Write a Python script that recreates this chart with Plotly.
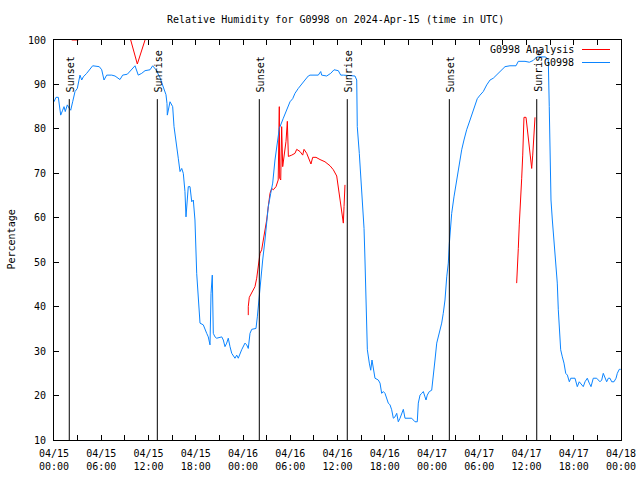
import pandas as pd
import plotly.graph_objects as go

BASE = pd.Timestamp("2024-04-15 00:00")

# G0998 observations (hours since 04/15 00:00 UTC, relative humidity %)
obs_hours = [0.00, 0.25, 0.55, 0.85, 1.10, 1.27, 1.43, 1.69, 1.94, 2.12, 2.37, 2.67, 2.96, 3.30, 3.52,
             3.72, 4.15, 4.57, 4.91, 5.75, 6.06, 6.35, 6.69, 7.33, 7.75, 8.38, 8.72, 9.31, 9.87, 10.29,
             10.70, 11.14, 11.56, 12.19, 12.53, 12.95, 13.46, 13.88, 14.22, 14.35, 14.39, 14.73, 15.07,
             15.24, 15.49, 15.78, 16.00, 16.22, 16.42, 16.63, 16.76, 16.93, 17.05, 17.27, 17.49, 17.69,
             17.90, 18.12, 18.32, 18.54, 18.96, 19.17, 19.39, 19.59, 19.81, 19.94, 20.10, 20.23, 20.44,
             20.66, 21.30, 21.50, 21.71, 21.93, 22.13, 22.35, 22.57, 22.98, 23.20, 23.40, 23.62, 23.83,
             24.25, 24.47, 24.67, 24.89, 25.11, 25.65, 25.82, 26.07, 26.25, 26.50, 26.79, 27.01, 27.21,
             27.52, 27.77, 28.06, 28.28, 28.61, 29.12, 29.55, 29.97, 30.31, 30.60, 31.02, 31.45, 31.87,
             32.29, 32.51, 33.56, 33.87, 33.99, 34.63, 35.14, 35.56, 36.10, 36.41, 36.74, 37.59, 38.22,
             38.44, 38.51, 38.77, 38.95, 39.07, 39.20, 39.37, 39.49, 39.62, 39.79, 40.04, 40.22, 40.38,
             40.55, 40.76, 41.18, 41.40, 41.61, 41.82, 42.03, 42.25, 42.45, 42.67, 42.88, 43.09, 43.30,
             43.52, 43.72, 43.94, 44.15, 44.36, 44.57, 45.42, 45.84, 46.13, 46.26, 46.48, 46.69, 46.90,
             47.11, 47.24, 47.40, 47.66, 47.96, 48.17, 48.38, 48.60, 48.80, 49.02, 49.23, 49.43, 49.65,
             49.87, 50.07, 50.20, 50.50, 50.79, 51.14, 51.47, 51.77, 52.06, 52.40, 52.83, 53.17, 53.46,
             53.75, 54.10, 54.51, 54.95, 55.37, 55.78, 56.22, 56.63, 57.27, 57.90, 58.67, 58.96, 59.81,
             60.36, 60.86, 61.30, 62.35, 62.57, 62.77, 62.89, 62.98, 63.11, 63.28, 63.49, 63.75, 63.91,
             64.04, 64.17, 64.34, 64.55, 64.76, 64.98, 65.19, 65.44, 65.62, 66.16, 66.45, 66.70, 67.01,
             67.21, 67.43, 67.72, 67.97, 68.19, 68.48, 68.91, 69.33, 69.55, 69.75, 69.97, 70.18, 70.39,
             70.60, 70.82, 71.11, 71.37, 71.53, 71.78, 71.96]
obs_rh = [86.1, 87.1, 87.1, 83.1, 84.2, 85.0, 83.9, 85.4, 84.6, 84.2, 86.1, 88.4, 89.1, 92.1, 91.0,
          91.7, 92.5, 93.4, 94.2, 94.0, 93.3, 91.0, 92.1, 92.1, 91.9, 91.1, 92.1, 92.3, 93.3, 94.2,
          92.1, 92.5, 93.1, 93.3, 94.2, 93.3, 91.5, 89.6, 87.7, 85.7, 83.1, 86.1, 85.0,
          80.5, 76.7, 73.4, 70.4, 71.1, 70.0, 65.9, 60.2, 64.0, 67.0, 67.0, 63.6, 64.0,
          59.5, 47.5, 42.6, 36.3, 35.9, 34.7, 34.0, 33.2, 31.4, 43.0, 47.1, 34.0, 33.2,
          32.9, 33.2, 32.5, 31.0, 31.8, 32.9, 31.0, 29.5, 28.4, 29.1, 28.4, 29.5, 30.3,
          31.8, 31.4, 30.6, 34.0, 34.9, 35.1, 37.7, 43.0, 46.0, 50.5, 55.0, 59.5, 62.5,
          65.5, 67.8, 73.0, 75.6, 80.1, 82.4, 84.2, 86.1, 86.8, 88.0, 89.1, 90.2, 91.0,
          91.9, 92.1, 92.1, 92.9, 92.1, 91.9, 92.5, 93.3, 93.1, 92.1, 92.1, 91.9, 91.9,
          91.0, 80.5, 74.5, 70.0, 66.3, 61.8, 57.6, 50.5, 37.7, 30.3, 27.3, 25.7, 28.0,
          26.1, 23.9, 23.5, 22.8, 20.5, 20.9, 20.5, 19.0, 18.3, 17.9, 16.8, 14.9, 15.2,
          16.0, 14.1, 14.9, 16.0, 16.9, 14.9, 14.9, 14.1, 14.1, 18.3, 20.1, 20.5, 20.9,
          19.7, 19.0, 20.1, 20.9, 21.2, 24.2, 28.0, 31.8, 33.2, 34.4, 36.3, 38.5, 41.5,
          46.7, 49.8, 54.2, 61.0, 64.7, 68.5, 72.2, 75.3, 77.5, 79.8, 82.0, 83.9, 85.4,
          86.8, 87.6, 88.4, 89.9, 91.0, 91.4, 92.1, 92.9, 94.0, 94.2, 94.2, 95.2, 95.2,
          95.0, 95.4, 96.2, 96.2, 96.0, 95.5, 85.0, 70.8, 64.0, 59.5, 55.0, 50.5, 45.3,
          39.3, 34.0, 30.3, 28.7, 27.3, 25.0, 24.6, 23.1, 23.9, 23.9, 22.0, 23.1, 22.4,
          22.0, 23.1, 23.9, 22.8, 22.0, 23.9, 23.9, 23.1, 23.5, 25.0, 23.9, 23.1, 23.9,
          23.9, 23.1, 23.1, 23.9, 25.0, 25.9, 25.9]

# G0998 Analysis (None = gap)
ana_hours = [2.25, 3.10, None,
             9.74, 10.58, 11.56, None,
             24.67, 24.67, 24.80, 25.11, 25.52, 25.74, 25.94, 26.16, 26.37, 26.58, 26.79, 27.01, 27.21,
             27.43, 27.64, 27.85, 28.19, 28.47, 28.61, 28.66, 28.79, 28.91, 29.04, 29.46, 29.63, 29.76,
             30.19, 30.60, 30.82, 31.24, 31.58, 31.75, 32.09, 32.42, 32.63, 32.85, 33.27, 33.78, 34.41,
             35.05, 35.47, 35.90, 36.10, 36.32, 36.53, 36.74, 36.83, 36.95, None,
             58.75, 58.83, 58.96, 59.08, 59.26, 59.39, 59.52, 59.68, 59.94, 60.10, 60.36, 60.53, 60.66,
             60.79, 60.95, 61.08]
ana_rh = [100.0, 100.0, None,
          100.0, 94.6, 100.0, None,
          38.1, 40.0, 42.1, 43.0, 44.5, 46.4, 48.6, 52.0, 52.8, 55.0, 56.9, 59.5, 62.5,
          65.5, 66.6, 66.3, 67.0, 68.5, 85.0, 68.9, 68.5, 80.5, 71.5, 77.2, 81.7, 73.8,
          74.1, 74.5, 75.4, 74.9, 74.1, 75.4, 74.5, 73.1, 72.1, 73.6, 73.6, 73.1, 72.6,
          71.7, 70.8, 69.4, 67.0, 64.8, 61.4, 58.8, 62.5, 67.4, None,
          45.3, 47.5, 53.1, 58.4, 63.6, 68.9, 74.1, 82.6, 82.6, 79.9, 76.0, 73.8, 71.1,
          74.1, 79.9, 82.6]

sun_hours = [1.94, 13.12, 26.07, 37.24, 50.20, 61.30]
sun_labels = ["Sunset", "Sunrise", "Sunset", "Sunrise", "Sunset", "Sunrise"]
SUN_TOP = 86.7

tick_hours = list(range(0, 73, 3))
tick_text = [(BASE + pd.Timedelta(hours=h)).strftime("%m/%d<br>%H:%M") if h % 6 == 0 else ""
             for h in tick_hours]

def to_time(hs):
    return [None if h is None else BASE + pd.Timedelta(hours=h) for h in hs]

FONT = "DejaVu Sans Mono"
BLUE = "#0a84ff"
RED = "#ff0000"

fig = go.Figure()
fig.add_trace(go.Scatter(x=to_time(ana_hours), y=ana_rh, mode="lines", name="G0998 Analysis",
                         line=dict(color=RED, width=1), connectgaps=False))
fig.add_trace(go.Scatter(x=to_time(obs_hours), y=obs_rh, mode="lines", name="G0998",
                         line=dict(color=BLUE, width=1)))

for h, lab in zip(sun_hours, sun_labels):
    t = BASE + pd.Timedelta(hours=h)
    fig.add_shape(type="line", xref="x", yref="y", x0=t, x1=t, y0=10, y1=SUN_TOP,
                  line=dict(color="black", width=1), layer="above")
    fig.add_annotation(x=t, y=SUN_TOP, xref="x", yref="y", text=lab, textangle=-90,
                       showarrow=False, xanchor="center", yanchor="bottom", yshift=5, xshift=1,
                       font=dict(family=FONT, size=10, color="black"))

# legend (text left of sample line, like gnuplot)
W, H = 567.0, 400.0
def px(xp):
    return (xp - 54) / W
def py(yp):
    return (440 - yp) / H

for name, col, ypix in [("G0998 Analysis", RED, 49.5), ("G0998", BLUE, 62.5)]:
    fig.add_annotation(x=px(576), y=py(ypix), xref="paper", yref="paper", text=name,
                       showarrow=False, xanchor="right", yanchor="middle",
                       font=dict(family=FONT, size=10, color="black"))
    fig.add_shape(type="line", xref="paper", yref="paper", x0=px(582), x1=px(610),
                  y0=py(ypix), y1=py(ypix), line=dict(color=col, width=1))

fig.add_annotation(x=px(335.5), y=py(19), xref="paper", yref="paper",
                   text="Relative Humidity for G0998 on 2024-Apr-15 (time in UTC)",
                   showarrow=False, xanchor="center", yanchor="middle",
                   font=dict(family=FONT, size=10, color="black"))
fig.add_annotation(x=px(10.5), y=py(240), xref="paper", yref="paper", text="Percentage",
                   textangle=-90, showarrow=False, xanchor="center", yanchor="middle",
                   font=dict(family=FONT, size=10, color="black"))

fig.update_layout(
    width=640, height=480,
    margin=dict(l=54, r=19, t=40, b=40),
    paper_bgcolor="white", plot_bgcolor="white",
    showlegend=False,
    font=dict(family=FONT, size=10, color="black"),
    xaxis=dict(range=[BASE, BASE + pd.Timedelta(hours=72)], tickmode="array",
               tickvals=to_time(tick_hours), ticktext=tick_text, automargin=False,
               ticklabelstandoff=4,
               ticks="inside", ticklen=5, tickcolor="black", showgrid=False, zeroline=False,
               showline=True, linecolor="black", linewidth=1, mirror="ticks"),
    yaxis=dict(range=[10, 100], tickmode="array", tickvals=list(range(10, 101, 10)),
               automargin=False, ticklabelstandoff=5,
               ticks="inside", ticklen=5, tickcolor="black", showgrid=False, zeroline=False,
               showline=True, linecolor="black", linewidth=1, mirror="ticks"),
)

fig.write_html("out.html", config={"displayModeBar": False},
               post_script="document.body.style.margin='0';document.body.style.overflow='hidden';")
